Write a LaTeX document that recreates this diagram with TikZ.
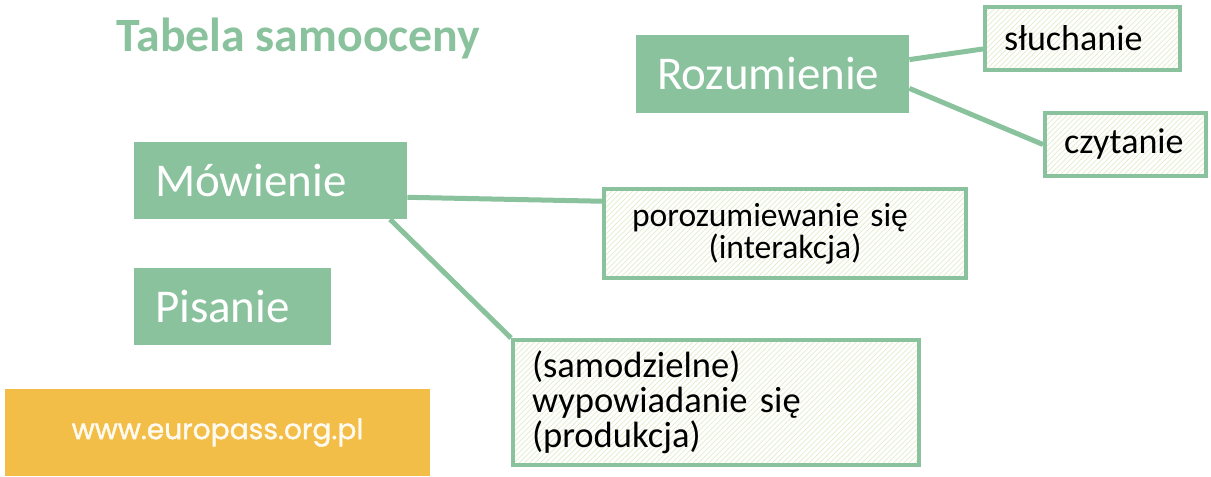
\documentclass[tikz,border=0pt]{standalone}
\usepackage{fontspec}
\setmainfont{Carlito}
\newfontfamily\bannerfont[FakeBold=1.5]{Poppins}
\usetikzlibrary{patterns}

\definecolor{skillgreen}{HTML}{89C29C}
\definecolor{hatchgreen}{HTML}{E2EACB}
\definecolor{bannergold}{HTML}{F3BE48}
\definecolor{bannertext}{HTML}{FFFAF0}

\begin{document}
\begin{tikzpicture}[
    skill/.style={fill=skillgreen, text=white, inner xsep=0.42cm, align=left,
      font=\fontsize{26.75}{32}\selectfont},
    subskill/.style={draw=skillgreen, line width=0.08cm, pattern=north east lines,
      pattern color=hatchgreen, inner xsep=0.38cm, align=left,
      font=\fontsize{20.5}{20.5}\selectfont},
    link/.style={draw=skillgreen, line width=0.1cm}]
    \useasboundingbox (0,0) rectangle (24.22,9.52);

    % Title
    \node (title) [anchor=base west, inner sep=0, text=skillgreen,
      font=\fontsize{27.2}{32}\selectfont\bfseries] at (2.32,8.48)
      {Tabela samooceny};

    % Main skills
    \node (rozumienie) [skill, text width=4.62cm, minimum height=1.56cm]
      at (15.45,8.04) {Rozumienie};
    \node (mowienie) [skill, text width=4.62cm, minimum height=1.54cm]
      at (5.41,5.91) {Mówienie};
    \node (pisanie) [skill, text width=3.10cm, minimum height=1.54cm]
      at (4.65,3.39) {Pisanie};

    % Sub-skills
    \node (sluchanie) [subskill, text width=3.14cm, minimum height=1.26cm]
      at (21.65,8.75) {słuchanie};
    \node (czytanie) [subskill, text width=2.46cm, minimum height=1.26cm]
      at (22.51,6.63) {czytanie};
    \node (interakcja) [subskill, text width=6.48cm, minimum height=1.78cm,
      align=center, font=\fontsize{19.1}{16.5}\selectfont] at (15.7,4.85)
      {porozumiewanie się\hphantom{\rule{0.6cm}{0pt}}\\(interakcja)};
    \node (produkcja) [subskill, text width=7.36cm, minimum height=2.5cm,
      font=\fontsize{20.8}{20}\selectfont] at (14.32,1.47)
      {(samodzielne)\\wypowiadanie się\\(produkcja)};

    % Links
    \draw[link] (rozumienie.6) -- (sluchanie.186);
    \draw[link] (rozumienie.354) -- (czytanie.west);
    \draw[link] (mowienie.353) -- (interakcja.170);
    \draw[link] (mowienie.342) -- (produkcja.north west);

    % Banner
    \node (banner) [fill=bannergold, text=bannertext, minimum width=8.5cm,
      minimum height=1.74cm, font=\bannerfont\fontsize{16}{19}\selectfont]
      at (4.35,0.87) {www.europass.org.pl};
\end{tikzpicture}
\end{document}
